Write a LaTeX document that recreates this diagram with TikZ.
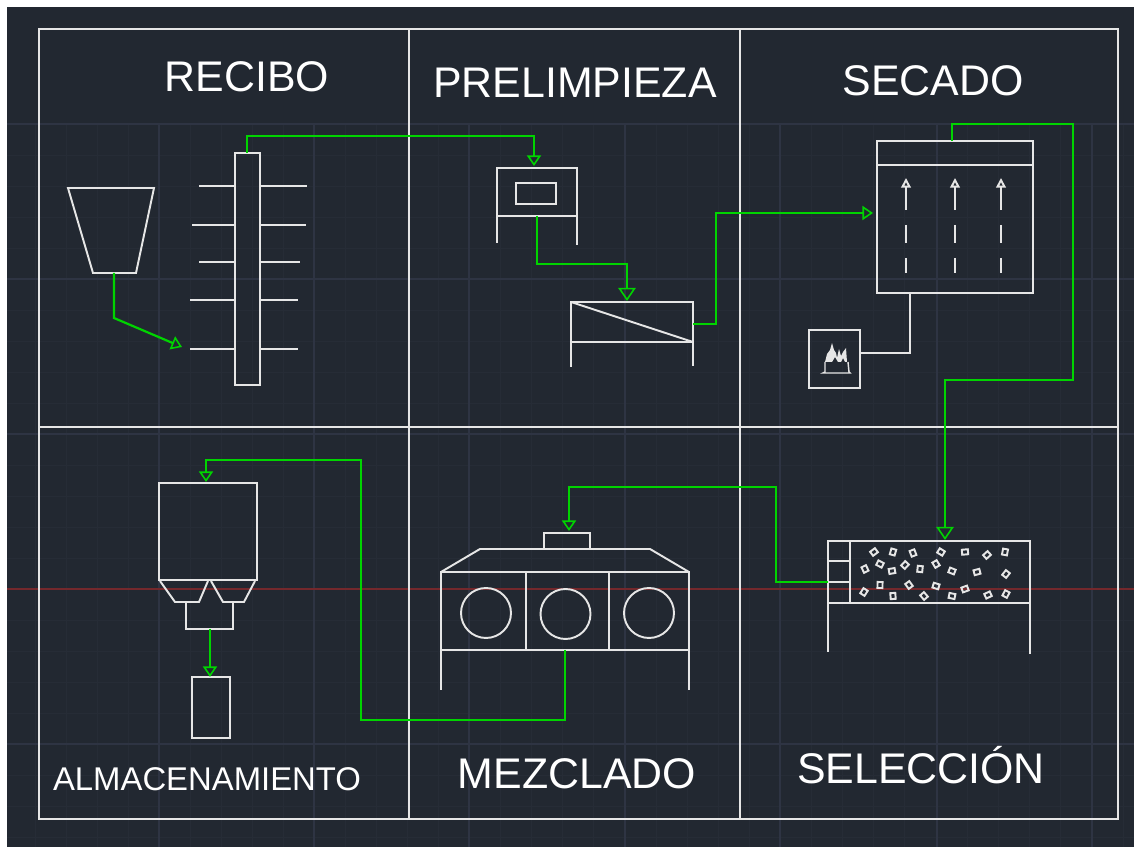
\documentclass[tikz,border=0pt]{standalone}
\usepackage{fontspec}
\setmainfont{Liberation Sans}
\usepackage{tikz}
\usetikzlibrary{arrows.meta}
\definecolor{cadback}{HTML}{222831}
\definecolor{cadminor}{HTML}{262C36}
\definecolor{cadmajor}{HTML}{2E3443}
\definecolor{cadaxis}{HTML}{74282C}
\definecolor{cadwhite}{HTML}{E6E6E6}
\definecolor{cadgreen}{HTML}{00D400}
\tikzset{
  wire/.style={draw=cadwhite, line width=1.1pt},
  box/.style={wire, rectangle, inner sep=0pt, outer sep=0pt},
  title/.style={text=white, font=\fontsize{24.4}{26}\selectfont, inner sep=0pt},
  flow/.style={draw=cadgreen, line width=1.25pt, -{Triangle[open, length=6pt, width=8pt, line width=0.9pt]}},
  bigflow/.style={flow, -{Triangle[open, length=7.5pt, width=10pt, line width=0.9pt]}},
  updraft/.style={wire, -{Triangle[open, length=5.5pt, width=5.5pt]}},
  particle/.style={draw=cadwhite, line width=1.1pt}
}
\begin{document}
\begin{tikzpicture}[x=0.02cm, y=-0.02cm]
\useasboundingbox (0,0) rectangle (1134,847);
\fill[white] (0,0) rectangle (1134,847);
\fill[cadback] (7,7) rectangle (1134,847);

% grid
\foreach \gx in {35,66,97,128,190,221,252,283,345,376,407,438,500,531,562,593,656,687,718,749,811,842,873,904,967,998,1029,1060,1123}
  \draw[cadminor, line width=0.5pt] (\gx,124) -- (\gx,847);
\foreach \gy in {155,186,217,248,310,341,372,403,465,496,527,558,620,651,682,713,775,806,837}
  \draw[cadminor, line width=0.5pt] (7,\gy) -- (1134,\gy);
\foreach \gx in {159,314,469,625,780,937,1092}
  \draw[cadmajor, line width=0.6pt] (\gx,124) -- (\gx,847);
\foreach \gy in {124,279,434,744}
  \draw[cadmajor, line width=0.6pt] (7,\gy) -- (1134,\gy);
\draw[cadaxis, line width=1.1pt] (7,589) -- (1134,589);

% frame
\draw[wire] (39,29) rectangle (1118,819);
\draw[wire] (409,29) -- (409,819);
\draw[wire] (740,29) -- (740,819);
\draw[wire] (39,427) -- (1118,427);

% titles
\node[title] (Recibo) at (247,77) {RECIBO};
\node[title] (Prelimpieza) at (575,83) {PRELIMPIEZA};
\node[title] (Secado) at (933,81) {SECADO};
\node[title, font=\fontsize{18.7}{20}\selectfont] (Almacenamiento) at (207,779) {ALMACENAMIENTO};
\node[title] (Mezclado) at (577,774) {MEZCLADO};
\node[title] (Seleccion) at (921,765) {SELECCIÓN};

% recibo
\draw[wire] (68,188) -- (154,188) -- (136,273) -- (93,273) -- cycle;
\coordinate (HopperOut) at (114,273);
\coordinate (HopperBend) at (114,318);
\coordinate (ArmIn) at (182,347);
\node[box, minimum width=0.5cm, minimum height=4.64cm] (Elevator) at (247.5,269) {};
\draw[wire] (199,186) -- (Elevator.west |- 0,186);
\draw[wire] (Elevator.east |- 0,186) -- (307,186);
\draw[wire] (192,225) -- (Elevator.west |- 0,225);
\draw[wire] (Elevator.east |- 0,225) -- (306,225);
\draw[wire] (199,262) -- (Elevator.west |- 0,262);
\draw[wire] (Elevator.east |- 0,262) -- (300,262);
\draw[wire] (190,300) -- (Elevator.west |- 0,300);
\draw[wire] (Elevator.east |- 0,300) -- (298,300);
\draw[wire] (190,349) -- (Elevator.west |- 0,349);
\draw[wire] (Elevator.east |- 0,349) -- (298,349);

% prelimpieza
\node[box, minimum width=1.6cm, minimum height=0.96cm] (Cleaner) at (537,192) {};
\node[box, minimum width=0.8cm, minimum height=0.42cm] (CleanerIn) at (536,193.5) {};
\draw[wire] (Cleaner.south west) -- (497,243);
\draw[wire] (Cleaner.south east) -- (577,245);
\node[box, minimum width=2.44cm, minimum height=0.8cm] (Screw) at (632,322) {};
\draw[wire] (Screw.north west) -- (Screw.south east);
\draw[wire] (Screw.south west) -- (571,367);
\draw[wire] (Screw.south east) -- (693,366);

% secado
\node[box, minimum width=3.12cm, minimum height=3.04cm] (Dryer) at (955,217) {};
\draw[wire] (877,165) -- (1033,165);
\foreach \ax in {906,955,1001} {
  \draw[updraft] (\ax,210) -- (\ax,178);
  \draw[wire] (\ax,225) -- (\ax,243);
  \draw[wire] (\ax,258) -- (\ax,273);
}
\node[box, minimum width=1.02cm, minimum height=1.16cm] (Burner) at (834.5,359) {};
\coordinate (BurnerOut) at (860,353);
\coordinate (BurnerBend) at (910,353);
\coordinate (DryerIn) at (910,293);
\draw[wire] (BurnerOut) -- (BurnerBend) -- (DryerIn);
\fill[cadwhite] (825,362) -- (827,354) -- (830,350) -- (832,343) -- (834,350) -- (836,353) -- (837,358) -- (839,349) -- (841,356) -- (843,352) -- (846,348) -- (847,362) -- (845,362) -- (843,358) -- (841,362) -- (838,362) -- (835,357) -- (832,362) -- cycle;
\draw[cadwhite, line width=0.8pt] (825,362) -- (825,372) -- (823,373) -- (850,373) -- (849,372) -- (848,362);

% seleccion
\node[box, minimum width=4.04cm, minimum height=1.24cm] (Separator) at (929,572) {};
\draw[wire] (850,541) -- (850,603);
\draw[wire] (828,561) -- (850,561);
\draw[wire] (828,582) -- (850,582);
\draw[wire] (Separator.south west) -- (828,652);
\draw[wire] (Separator.south east) -- (1030,654);
\foreach \px/\py [count=\pn] in {874/552,893/552,913/553,941/552,965/552,987/555,1005/552,
  865/569,880/564,892/571,905/565,920/569,936/564,952/571,977/572,1006/574,
  880/585,909/585,936/586,965/589,864/592,893/596,924/596,952/596,988/595,1006/594}
  \draw[particle, shift={(\px,\py)}, rotate=\pn*37] (-3,-2.5) rectangle (3,2.5);

% mezclado
\node[box, minimum width=0.92cm, minimum height=0.32cm] (MixerTop) at (567,541) {};
\node[box, minimum width=4.96cm, minimum height=1.56cm] (Mixer) at (565,611) {};
\draw[wire] (441,572) -- (480,549) -- (650,549) -- (689,572);
\draw[wire] (526,572) -- (526,650);
\draw[wire] (609,572) -- (609,650);
\node[box, circle, minimum size=1cm] (DrumA) at (486,613) {};
\node[box, circle, minimum size=1cm] (DrumB) at (565.5,614) {};
\node[box, circle, minimum size=1cm] (DrumC) at (649,613) {};
\draw[wire] (Mixer.south west) -- (441,690);
\draw[wire] (Mixer.south east) -- (689,690);

% almacenamiento
\node[box, minimum width=1.96cm, minimum height=1.94cm] (Silo) at (208,531.5) {};
\draw[wire] (160,581) -- (175,602) -- (199,602) -- (208,581);
\draw[wire] (211,581) -- (223,602) -- (244,602) -- (255,581);
\draw[wire] (186,602) -- (186,629) -- (233,629) -- (233,602);
\coordinate (SiloOut) at (210,629);
\coordinate (TankIn) at (210,677);
\node[box, minimum width=0.76cm, minimum height=1.22cm] (Tank) at (211,707.5) {};

% flujo
\coordinate (A) at (247,136);
\coordinate (B) at (534,136);
\coordinate (C) at (534,166);
\coordinate (D) at (537,264);
\coordinate (E) at (627,264);
\coordinate (F) at (627,301);
\coordinate (G) at (693,324);
\coordinate (H) at (716,324);
\coordinate (I) at (716,213);
\coordinate (J) at (873,213);
\coordinate (K) at (952,141);
\coordinate (L) at (952,124);
\coordinate (M) at (1073,124);
\coordinate (N) at (1073,380);
\coordinate (O) at (945,380);
\coordinate (P) at (945,540);
\coordinate (Q) at (828,582);
\coordinate (R) at (776,582);
\coordinate (S) at (776,487);
\coordinate (T) at (569,487);
\coordinate (U) at (569,531);
\coordinate (V) at (565,650);
\coordinate (W) at (565,720);
\coordinate (X) at (361,720);
\coordinate (Y) at (361,460);
\coordinate (Z) at (206,460);
\coordinate (SiloIn) at (206,482);
\draw[flow] (HopperOut) -- (HopperBend) -- (ArmIn);
\draw[flow] (Elevator.north -| A) -- (A) -- (B) -- (C);
\draw[bigflow] (Cleaner.south) -- (D) -- (E) -- (F);
\draw[flow] (G) -- (H) -- (I) -- (J);
\draw[bigflow] (K) -- (L) -- (M) -- (N) -- (O) -- (P);
\draw[flow] (Q) -- (R) -- (S) -- (T) -- (U);
\draw[flow] (V) -- (W) -- (X) -- (Y) -- (Z) -- (SiloIn);
\draw[flow] (SiloOut) -- (TankIn);
\end{tikzpicture}
\end{document}
